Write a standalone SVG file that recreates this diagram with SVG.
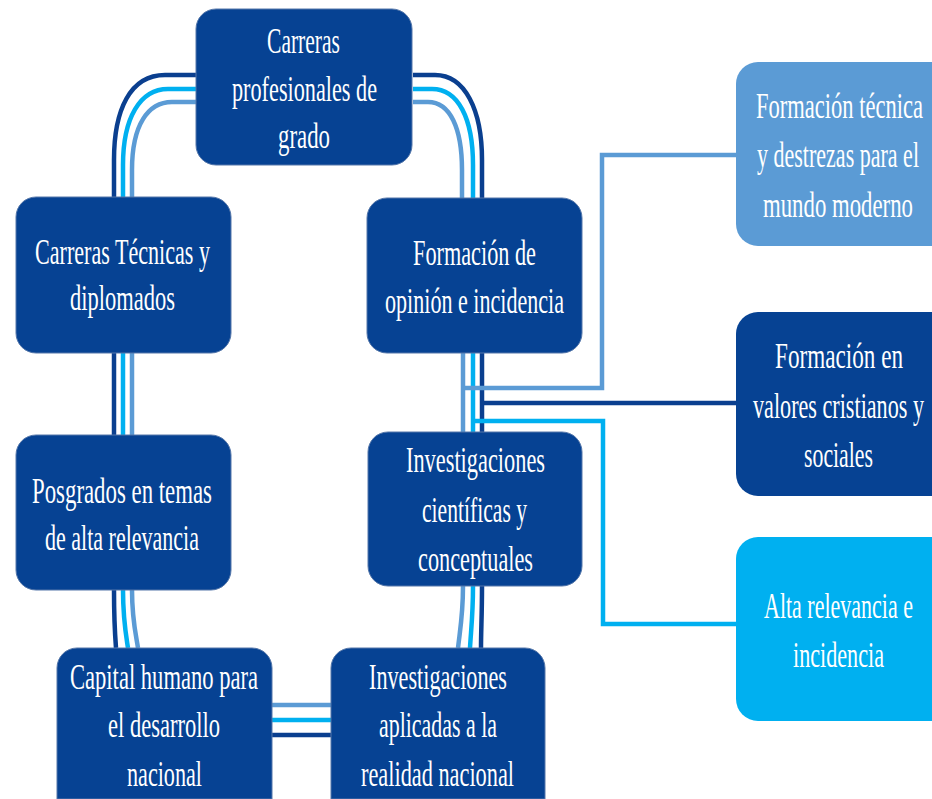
<svg xmlns="http://www.w3.org/2000/svg" width="932" height="799" viewBox="0 0 932 799">
<style>
.box{stroke:#5577aa;stroke-width:1}
.dk{fill:#064293}
.lb{fill:#5b9bd5}
.cy{fill:#00b0f0}
text{font-family:"Liberation Serif","Times New Roman",serif;font-size:36px;fill:#ffffff}
.e{text-anchor:end}
.c{fill:none;stroke-width:4.5}
.cd{stroke:#0a3f8f}
.cc{stroke:#00b0f0}
.cl{stroke:#5b9bd5}
</style>
<rect width="932" height="799" fill="#ffffff"/>
<g id="connectors">
  <path class="c cd" d="M196,75 H165 C130,75 114,110 114,160 V197"/>
  <path class="c cc" d="M196,89 H168 C140,89 123,118 123,165 V197"/>
  <path class="c cl" d="M196,102 H172 C148,102 132,125 132,170 V197"/>
  <path class="c cd" d="M413,75 H435 C465,75 482,110 482,160 V198"/>
  <path class="c cc" d="M413,89 H432 C458,89 473,118 473,165 V198"/>
  <path class="c cl" d="M413,102 H428 C450,102 462,128 462,170 V198"/>
  <path class="c cd" d="M114,352 V435"/>
  <path class="c cc" d="M123,352 V435"/>
  <path class="c cl" d="M132,352 V435"/>
  <path class="c cd" d="M114,590 C114,620 115,635 116,648"/>
  <path class="c cc" d="M123,590 C123,620 126,635 128,648"/>
  <path class="c cl" d="M132,590 C132,620 136,635 138,648"/>
  <path class="c cl" d="M463,353 V432"/>
  <path class="c cc" d="M473,353 V432"/>
  <path class="c cd" d="M482,353 V432"/>
  <path class="c cl" d="M463,388 H602 V155 H737"/>
  <path class="c cd" d="M482,403 H737"/>
  <path class="c cc" d="M473,421 H603 V624 H737"/>
  <path class="c cl" d="M463,586 C463,615 460,630 458,648"/>
  <path class="c cc" d="M473,586 C473,615 471,630 470,648"/>
  <path class="c cd" d="M482,586 C482,615 481,630 481,648"/>
  <path class="c cl" d="M272,705 H331"/>
  <path class="c cc" d="M272,720 H331"/>
  <path class="c cd" d="M272,735 H331"/>
</g>
<g id="n1">
  <rect class="box dk" x="196" y="9" width="216" height="156" rx="20"/>
  <text x="267" y="53" textLength="73" lengthAdjust="spacingAndGlyphs">Carreras</text>
  <text x="232" y="101" textLength="145" lengthAdjust="spacingAndGlyphs">profesionales de</text>
  <text x="278" y="148" textLength="52" lengthAdjust="spacingAndGlyphs">grado</text>
</g>
<g id="n2">
  <rect class="box dk" x="16" y="197" width="215" height="156" rx="20"/>
  <text x="35" y="264" textLength="175" lengthAdjust="spacingAndGlyphs">Carreras Técnicas y</text>
  <text x="70" y="310" textLength="105" lengthAdjust="spacingAndGlyphs">diplomados</text>
</g>
<g id="n3">
  <rect class="box dk" x="367" y="198" width="215" height="155" rx="20"/>
  <text x="413" y="265" textLength="123" lengthAdjust="spacingAndGlyphs">Formación de</text>
  <text x="385" y="313" textLength="179" lengthAdjust="spacingAndGlyphs">opinión e incidencia</text>
</g>
<g id="n4">
  <rect class="box dk" x="16" y="435" width="215" height="155" rx="20"/>
  <text x="32" y="503" textLength="180" lengthAdjust="spacingAndGlyphs">Posgrados en temas</text>
  <text x="45" y="550" textLength="154" lengthAdjust="spacingAndGlyphs">de alta relevancia</text>
</g>
<g id="n5">
  <rect class="box dk" x="368" y="432" width="214" height="154" rx="20"/>
  <text x="406" y="472" textLength="139" lengthAdjust="spacingAndGlyphs">Investigaciones</text>
  <text x="422" y="522" textLength="105" lengthAdjust="spacingAndGlyphs">científicas y</text>
  <text x="418" y="571" textLength="115" lengthAdjust="spacingAndGlyphs">conceptuales</text>
</g>
<g id="n6">
  <path class="box dk" d="M77,648 H252 A20,20 0 0 1 272,668 V799 H57 V668 A20,20 0 0 1 77,648 Z"/>
  <text x="70" y="689" textLength="188" lengthAdjust="spacingAndGlyphs">Capital humano para</text>
  <text x="108" y="737" textLength="112" lengthAdjust="spacingAndGlyphs">el desarrollo</text>
  <text x="127" y="786" textLength="75" lengthAdjust="spacingAndGlyphs">nacional</text>
</g>
<g id="n7">
  <path class="box dk" d="M351,648 H525 A20,20 0 0 1 545,668 V799 H331 V668 A20,20 0 0 1 351,648 Z"/>
  <text x="369" y="689" textLength="138" lengthAdjust="spacingAndGlyphs">Investigaciones</text>
  <text x="379" y="737" textLength="118" lengthAdjust="spacingAndGlyphs">aplicadas a la</text>
  <text x="361" y="786" textLength="153" lengthAdjust="spacingAndGlyphs">realidad nacional</text>
</g>
<g id="n8">
  <path class="lb" d="M758,62 H932 V246 H758 A22,22 0 0 1 736,224 V84 A22,22 0 0 1 758,62 Z"/>
  <text class="e" x="923" y="118" textLength="167" lengthAdjust="spacingAndGlyphs">Formación técnica</text>
  <text class="e" x="919" y="167" textLength="162" lengthAdjust="spacingAndGlyphs">y destrezas para el</text>
  <text class="e" x="913" y="217" textLength="150" lengthAdjust="spacingAndGlyphs">mundo moderno</text>
</g>
<g id="n9">
  <path class="dk" d="M758,312 H932 V496 H758 A22,22 0 0 1 736,474 V334 A22,22 0 0 1 758,312 Z"/>
  <text class="e" x="903" y="368" textLength="128" lengthAdjust="spacingAndGlyphs">Formación en</text>
  <text class="e" x="924" y="418" textLength="171" lengthAdjust="spacingAndGlyphs">valores cristianos y</text>
  <text class="e" x="873" y="467" textLength="69" lengthAdjust="spacingAndGlyphs">sociales</text>
</g>
<g id="n10">
  <path class="cy" d="M758,537 H932 V721 H758 A22,22 0 0 1 736,699 V559 A22,22 0 0 1 758,537 Z"/>
  <text class="e" x="913" y="618" textLength="149" lengthAdjust="spacingAndGlyphs">Alta relevancia e</text>
  <text class="e" x="884" y="667" textLength="91" lengthAdjust="spacingAndGlyphs">incidencia</text>
</g>
</svg>
